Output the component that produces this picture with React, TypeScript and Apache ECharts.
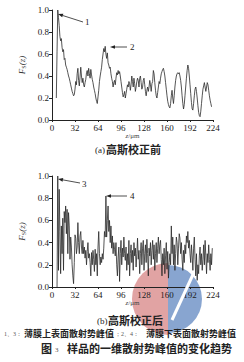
import React, { useEffect, useRef } from "react";
import * as echarts from "echarts";

const zStartA = 6;
const fsA = [
  0.2, 0.62, 1.0, 0.93, 0.86, 0.76, 0.72, 0.74, 0.66, 0.62, 0.64, 0.55, 0.56, 0.5, 0.48, 0.46, 0.43, 0.4, 0.38, 0.35,
  0.32, 0.29, 0.26, 0.24, 0.22, 0.23, 0.28, 0.35, 0.32, 0.42, 0.47, 0.36, 0.31, 0.39, 0.48, 0.4, 0.34, 0.38, 0.32, 0.3,
  0.34, 0.37, 0.43, 0.45, 0.4, 0.47, 0.42, 0.38, 0.46, 0.41, 0.37, 0.34, 0.3, 0.27, 0.24, 0.2, 0.17, 0.15, 0.21, 0.27,
  0.35, 0.4, 0.44, 0.48, 0.55, 0.6, 0.65, 0.62, 0.67, 0.6, 0.56, 0.61, 0.52, 0.5, 0.47, 0.48, 0.42, 0.38, 0.35, 0.3,
  0.34, 0.36, 0.32, 0.38, 0.43, 0.41, 0.45, 0.42, 0.44, 0.4, 0.35, 0.3, 0.25, 0.21, 0.23, 0.26, 0.2, 0.24, 0.28, 0.32,
  0.3, 0.35, 0.33, 0.27, 0.32, 0.4, 0.35, 0.3, 0.38, 0.33, 0.26, 0.3, 0.35, 0.38, 0.36, 0.3, 0.38, 0.4, 0.34, 0.28,
  0.3, 0.36, 0.38, 0.32, 0.26, 0.22, 0.27, 0.3, 0.26, 0.3, 0.36, 0.32, 0.26, 0.33,
  0.35, 0.45, 0.42, 0.34, 0.27, 0.22, 0.2, 0.25, 0.3, 0.35, 0.33, 0.38, 0.42, 0.44, 0.46, 0.47, 0.44, 0.4, 0.34, 0.28,
  0.22, 0.17, 0.14, 0.12, 0.11, 0.15, 0.22, 0.27, 0.2, 0.15, 0.22, 0.3, 0.36, 0.4, 0.42, 0.43, 0.42, 0.43, 0.4, 0.36,
  0.3, 0.22, 0.15, 0.1, 0.14, 0.22, 0.3, 0.38, 0.45, 0.5, 0.47, 0.4, 0.32, 0.24, 0.16, 0.1, 0.09, 0.15, 0.22, 0.28,
  0.3, 0.26, 0.2, 0.13, 0.07, 0.04, 0.03, 0.08, 0.15, 0.22, 0.28, 0.31, 0.34, 0.3, 0.26, 0.3, 0.34, 0.32, 0.27, 0.22,
  0.18, 0.15, 0.12,
];

const zStartB = 7;
const fsB = [
  0.0, 1.0, 0.15, 0.88, 0.5, 0.12, 0.55, 0.3, 0.62, 0.15, 0.68, 0.58, 0.73, 0.48, 0.7, 0.3, 0.67, 0.55, 0.25, 0.45,
  0.36, 0.2, 0.1, 0.03, 0.22, 0.47, 0.44, 0.3, 0.36, 0.58, 0.4, 0.3, 0.46, 0.5, 0.36, 0.3, 0.42, 0.3, 0.36, 0.26,
  0.33, 0.2, 0.32, 0.4, 0.26, 0.3, 0.22, 0.1, 0.31, 0.2, 0.33, 0.25, 0.14, 0.34, 0.2, 0.3, 0.1, 0.36, 0.5, 0.3,
  0.2, 0.27, 0.22, 0.3, 0.25, 0.35, 0.5, 0.45, 0.82, 0.45, 0.6, 0.73, 0.5, 0.6, 0.4, 0.55, 0.35, 0.46, 0.3, 0.4,
  0.34, 0.28, 0.4, 0.2, 0.1, 0.27, 0.36, 0.05, 0.3, 0.42, 0.2, 0.35, 0.27, 0.45, 0.3, 0.24, 0.36, 0.15, 0.3, 0.2,
  0.42, 0.1, 0.3, 0.38, 0.22, 0.33, 0.15, 0.4, 0.28, 0.35, 0.18, 0.3, 0.44, 0.25, 0.33, 0.12, 0.3, 0.4, 0.2, 0.35,
  0.42, 0.15, 0.3, 0.38, 0.22, 0.43, 0.3, 0.1, 0.35, 0.28, 0.4, 0.2, 0.33, 0.42, 0.25, 0.38, 0.15, 0.3, 0.4, 0.22,
  0.35, 0.45, 0.3, 0.38, 0.42, 0.25, 0.1, 0.3, 0.2, 0.35, 0.12, 0.28, 0.4, 0.16, 0.32, 0.08, 0.22, 0.3, 0.2, 0.55,
  0.3, 0.45, 0.2, 0.38, 0.15, 0.3, 0.45, 0.4, 0.2, 0.35, 0.48, 0.44, 0.3, 0.4, 0.25, 0.15, 0.33, 0.22, 0.38, 0.3,
  0.46, 0.4, 0.5, 0.35, 0.42, 0.3, 0.22, 0.38, 0.28, 0.15, 0.35, 0.45, 0.25, 0.1, 0.3, 0.06, 0.2, 0.12, 0.28, 0.36,
  0.2, 0.3, 0.15, 0.25, 0.38, 0.2, 0.42, 0.28, 0.12, 0.3, 0.22, 0.38, 0.25, 0.15, 0.3, 0.2, 0.35,
];

const xMin = 0;
const xMax = 224;
const xStep = 32;
const yMin = 0;
const yMax = 1;
const yStep = 0.2;

const serif = "'Liberation Serif', 'DejaVu Serif', serif";
const cjk = "'Noto Sans CJK SC', sans-serif";

function pairs(start: number, vals: number[]) {
  return vals.map((v, i) => [start + i, v]);
}

function arrow(x1: number, y1: number, x2: number, y2: number) {
  const ang = Math.atan2(y2 - y1, x2 - x1);
  const L = 5, W = 1.8;
  const bx = x2 - L * Math.cos(ang), by = y2 - L * Math.sin(ang);
  const px = -Math.sin(ang) * W, py = Math.cos(ang) * W;
  return [
    { type: "line", shape: { x1, y1, x2: bx, y2: by }, style: { stroke: "#222", lineWidth: 0.8 }, z: 10 },
    {
      type: "polygon",
      shape: { points: [[x2, y2], [bx + px, by + py], [bx - px, by - py]] },
      style: { fill: "#222" },
      z: 10,
    },
  ];
}

function label(text: string, x: number, y: number, size = 9, font = serif, weight: any = "normal", align = "left", color = "#222") {
  return {
    type: "text",
    x,
    y,
    z: 10,
    style: { text, fontSize: size, fontFamily: font, fontWeight: weight, fill: color, align, verticalAlign: "middle" },
  };
}

export default function App() {
  const ref = useRef<HTMLDivElement>(null);
  useEffect(() => {
    if (!ref.current) return;
    const chart = echarts.init(ref.current, null, { renderer: "svg" });
    const xAxisBase = (gi: number) => ({
      type: "value",
      gridIndex: gi,
      min: xMin,
      max: xMax,
      interval: xStep,
      axisLine: { lineStyle: { color: "#222", width: 1 } },
      axisTick: { show: true, length: 2, lineStyle: { color: "#222" } },
      axisLabel: { fontSize: 9, fontFamily: serif, color: "#222", margin: 3 },
      splitLine: { show: false },
      name: "{i|z}{n|/μm}",
      nameLocation: "middle",
      nameGap: 11,
      nameTextStyle: {
        rich: {
          i: { fontSize: 7, fontFamily: serif, fontStyle: "italic", color: "#444" },
          n: { fontSize: 7, fontFamily: serif, color: "#444" },
        },
      },
    });
    const yAxisBase = (gi: number) => ({
      type: "value",
      gridIndex: gi,
      min: yMin,
      max: yMax,
      interval: yStep,
      axisLine: { show: true, lineStyle: { color: "#222", width: 1 } },
      axisTick: { show: true, length: 3, lineStyle: { color: "#222" } },
      axisLabel: { fontSize: 9, fontFamily: serif, color: "#222", margin: 3, formatter: (v: number) => v.toFixed(1) },
      splitLine: { show: false },
      name: "{i|F}{s|S}{i|(z)}",
      nameLocation: "middle",
      nameRotate: 90,
      nameGap: 18,
      nameTextStyle: {
        rich: {
          i: { fontSize: 9, fontFamily: serif, fontStyle: "italic", color: "#333" },
          s: { fontSize: 6, fontFamily: serif, color: "#333", verticalAlign: "bottom", padding: [4, 0, 0, 0] },
        },
      },
    });
    const lineStyle = { color: "#2a2a2a", width: 0.8 };
    const option: any = {
      animation: false,
      backgroundColor: "#fff",
      grid: [
        { left: 52, top: 10, width: 161, height: 110 },
        { left: 52, top: 176, width: 161, height: 111 },
      ],
      xAxis: [xAxisBase(0), xAxisBase(1)],
      yAxis: [yAxisBase(0), yAxisBase(1)],
      series: [
        {
          type: "line",
          xAxisIndex: 0,
          yAxisIndex: 0,
          data: pairs(zStartA, fsA),
          showSymbol: false,
          lineStyle,
          z: 5,
        },
        {
          type: "line",
          xAxisIndex: 1,
          yAxisIndex: 1,
          data: pairs(zStartB, fsB),
          showSymbol: false,
          lineStyle,
          z: 5,
        },
      ],
      graphic: [
        // watermark logo
        {
          type: "sector",
          shape: { cx: 168, cy: 299, r: 36, r0: 0, startAngle: Math.PI / 2, endAngle: (3 * Math.PI) / 2 },
          style: { fill: "#d98c8c", opacity: 0.8 },
          z: 0,
        },
        {
          type: "sector",
          shape: { cx: 168, cy: 299, r: 34, r0: 0, startAngle: -Math.PI / 2, endAngle: Math.PI / 2 },
          style: { fill: "#6a8fc4", opacity: 0.8 },
          z: 0,
        },
        {
          type: "line",
          shape: { x1: 172, y1: 320, x2: 196, y2: 268 },
          style: { stroke: "#fff", lineWidth: 3 },
          z: 1,
        },
        ...arrow(83, 22, 58, 14),
        label("1", 85, 22),
        ...arrow(127, 47, 110, 47),
        label("2", 130, 47),
        ...arrow(80, 183, 58, 179),
        label("3", 82, 184),
        ...arrow(127, 196, 106, 196),
        label("4", 130, 196),
        label("(a)", 95, 150, 9, serif),
        label("高斯校正前", 106, 149, 11, cjk, "bold"),
        label("(b)", 97, 321, 9, serif),
        label("高斯校正后", 108, 320, 11, cjk, "bold"),
        label("1、3：", 4, 334, 6, serif, "normal", "left", "#555"),
        label("薄膜上表面散射势峰值", 24, 333, 9, cjk, "bold"),
        label("；2、4：", 115, 334, 6, serif, "normal", "left", "#555"),
        label("薄膜下表面散射势峰值", 146, 333, 9, cjk, "bold"),
        label("图", 41, 348, 11, cjk, "bold"),
        label("3", 55, 350, 7, serif, "normal", "left", "#555"),
        label("样品的一维散射势峰值的变化趋势", 67, 348, 11, cjk, "bold"),
      ],
    };
    chart.setOption(option);
    return () => chart.dispose();
  }, []);
  return (
    <div
      ref={ref}
      style={{ position: "fixed", left: 0, top: 0, width: 244, height: 362, background: "#fff" }}
    />
  );
}
